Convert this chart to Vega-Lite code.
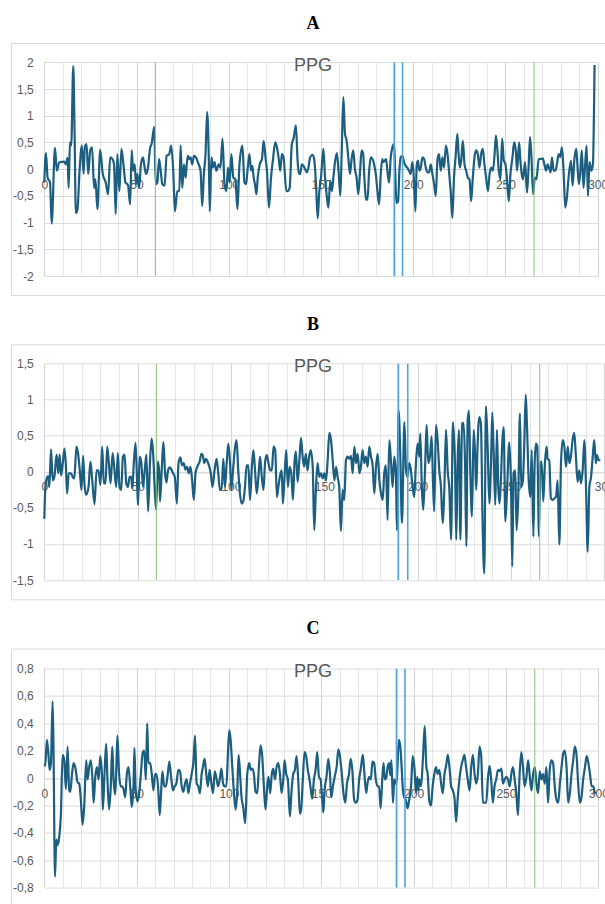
{
  "$schema": "https://vega.github.io/schema/vega-lite/v6.json",
  "background": "white",
  "padding": {"left": 10, "top": 14, "right": 0, "bottom": 0},
  "spacing": 19.3,
  "resolve": {"scale": {"x": "independent", "y": "independent"}},
  "datasets": {
    "a": [
      {"t":0,"v":-0.25},{"t":0.9,"v":0.30},{"t":1.8,"v":-0.16},{"t":3.1,"v":-0.25},{"t":4.0,"v":-1.02},{"t":5.8,"v":0.40},{"t":6.8,"v":-0.03},{"t":8.1,"v":0.13},{"t":10.8,"v":0.14},{"t":11.7,"v":0.09},{"t":12.6,"v":0.21},{"t":13.2,"v":-0.35},{"t":13.9,"v":0.50},{"t":14.6,"v":0.44},{"t":15.7,"v":1.93},{"t":16.4,"v":0.72},{"t":17.1,"v":-0.82},{"t":18.0,"v":-0.75},{"t":19.1,"v":-0.03},{"t":20.4,"v":0.44},{"t":21.3,"v":-0.09},{"t":22.0,"v":0.42},{"t":22.9,"v":0.47},{"t":23.8,"v":-0.09},{"t":24.9,"v":0.35},{"t":25.9,"v":0.41},{"t":27.0,"v":-0.35},{"t":27.7,"v":-0.19},{"t":28.8,"v":-0.75},{"t":30.3,"v":0.36},{"t":31.7,"v":-0.09},{"t":33.3,"v":-0.25},{"t":34.6,"v":-0.47},{"t":35.7,"v":0.22},{"t":36.9,"v":0.19},{"t":37.8,"v":0.09},{"t":38.7,"v":-0.84},{"t":39.6,"v":0.28},{"t":40.7,"v":-0.41},{"t":41.8,"v":0.38},{"t":42.9,"v":0.09},{"t":44.0,"v":-0.25},{"t":45.4,"v":-0.30},{"t":46.5,"v":-0.66},{"t":47.4,"v":0.35},{"t":48.1,"v":-0.03},{"t":49.0,"v":0.09},{"t":49.7,"v":-0.28},{"t":50.5,"v":-0.09},{"t":51.4,"v":-0.35},{"t":52.4,"v":0.09},{"t":53.5,"v":0.22},{"t":54.4,"v":0.03},{"t":55.1,"v":-0.09},{"t":56.2,"v":0.03},{"t":57.3,"v":0.38},{"t":58.2,"v":0.48},{"t":59.6,"v":0.79},{"t":60.4,"v":-0.28},{"t":61.3,"v":-0.25},{"t":62.2,"v":0.19},{"t":63.1,"v":-0.03},{"t":64.0,"v":-0.28},{"t":65.2,"v":-0.31},{"t":66.3,"v":0.25},{"t":67.7,"v":0.28},{"t":68.8,"v":0.44},{"t":69.9,"v":-0.03},{"t":70.8,"v":-0.79},{"t":72.1,"v":-0.41},{"t":73.2,"v":-0.41},{"t":73.9,"v":0.44},{"t":74.8,"v":-0.35},{"t":75.7,"v":0.09},{"t":76.6,"v":-0.16},{"t":77.1,"v":0.03},{"t":77.8,"v":0.25},{"t":78.6,"v":0.19},{"t":79.3,"v":0.22},{"t":80.2,"v":0.09},{"t":81.1,"v":0.25},{"t":82.2,"v":0.22},{"t":83.2,"v":0.13},{"t":84.7,"v":-0.03},{"t":85.6,"v":-0.69},{"t":86.5,"v":-0.09},{"t":87.4,"v":0.28},{"t":88.3,"v":1.07},{"t":89.2,"v":0.16},{"t":89.7,"v":-0.79},{"t":90.6,"v":0.22},{"t":91.4,"v":0.03},{"t":92.3,"v":0.13},{"t":93.3,"v":-0.03},{"t":94.6,"v":0.09},{"t":95.5,"v":0.03},{"t":96.6,"v":0.57},{"t":97.7,"v":-0.28},{"t":98.7,"v":-0.41},{"t":99.6,"v":0.03},{"t":100.5,"v":-0.25},{"t":101.4,"v":0.28},{"t":102.5,"v":-0.16},{"t":103.6,"v":-0.19},{"t":104.7,"v":-0.75},{"t":105.8,"v":0.09},{"t":107.4,"v":0.44},{"t":108.5,"v":-0.25},{"t":109.4,"v":-0.28},{"t":110.3,"v":0.03},{"t":111.2,"v":0.28},{"t":112.1,"v":-0.03},{"t":112.8,"v":0.06},{"t":113.5,"v":-0.16},{"t":114.2,"v":-0.28},{"t":115.0,"v":-0.47},{"t":115.7,"v":-0.16},{"t":116.8,"v":0.09},{"t":118.0,"v":0.19},{"t":118.9,"v":0.53},{"t":120.0,"v":0.19},{"t":120.7,"v":-0.03},{"t":121.8,"v":-0.72},{"t":122.9,"v":-0.16},{"t":124.0,"v":0.19},{"t":125.2,"v":0.50},{"t":126.1,"v":0.41},{"t":127.0,"v":0.22},{"t":127.9,"v":-0.03},{"t":128.8,"v":0.28},{"t":129.7,"v":0.22},{"t":131.2,"v":-0.41},{"t":131.9,"v":-0.41},{"t":133.0,"v":-0.35},{"t":134.2,"v":0.47},{"t":135.1,"v":0.57},{"t":136.4,"v":0.82},{"t":137.3,"v":0.16},{"t":138.0,"v":-0.09},{"t":138.7,"v":-0.09},{"t":139.6,"v":0.09},{"t":140.5,"v":0.06},{"t":141.4,"v":0.00},{"t":142.3,"v":-0.06},{"t":143.2,"v":0.03},{"t":144.1,"v":0.22},{"t":145.5,"v":0.27},{"t":146.4,"v":0.16},{"t":147.3,"v":-0.28},{"t":148.2,"v":-0.92},{"t":149.1,"v":-0.41},{"t":150.0,"v":-0.16},{"t":151.3,"v":0.38},{"t":152.2,"v":-0.16},{"t":153.2,"v":-0.53},{"t":154.0,"v":-0.72},{"t":155.0,"v":-0.22},{"t":155.9,"v":-0.41},{"t":156.7,"v":-0.16},{"t":157.7,"v":0.16},{"t":158.6,"v":0.30},{"t":159.5,"v":-0.03},{"t":160.5,"v":-0.50},{"t":161.2,"v":0.28},{"t":162.1,"v":1.35},{"t":163.0,"v":0.66},{"t":163.9,"v":0.53},{"t":164.8,"v":0.22},{"t":165.7,"v":-0.09},{"t":166.6,"v":0.19},{"t":167.5,"v":0.35},{"t":168.4,"v":0.00},{"t":169.3,"v":-0.16},{"t":170.2,"v":-0.47},{"t":171.1,"v":-0.09},{"t":172.0,"v":0.35},{"t":172.9,"v":0.28},{"t":173.4,"v":-0.09},{"t":174.5,"v":-0.57},{"t":175.2,"v":-0.57},{"t":176.1,"v":-0.03},{"t":177.0,"v":0.22},{"t":177.9,"v":0.19},{"t":178.8,"v":0.09},{"t":179.7,"v":-0.09},{"t":180.6,"v":-0.41},{"t":181.5,"v":-0.66},{"t":182.4,"v":-0.09},{"t":183.2,"v":0.19},{"t":183.9,"v":0.13},{"t":184.6,"v":0.16},{"t":185.3,"v":0.19},{"t":186.0,"v":-0.03},{"t":186.9,"v":-0.25},{"t":187.8,"v":0.22},{"t":188.7,"v":0.41},{"t":189.6,"v":0.47},{"t":190.2,"v":-0.03},{"t":190.9,"v":-0.63},{"t":191.8,"v":-0.60},{"t":192.5,"v":-0.03},{"t":193.2,"v":0.22},{"t":194.1,"v":0.25},{"t":195.0,"v":0.13},{"t":195.9,"v":0.06},{"t":196.8,"v":0.03},{"t":197.7,"v":-0.03},{"t":198.6,"v":-0.09},{"t":199.5,"v":0.13},{"t":200.1,"v":-0.03},{"t":201.2,"v":-0.79},{"t":201.9,"v":0.09},{"t":202.6,"v":0.16},{"t":203.3,"v":-0.03},{"t":204.1,"v":0.03},{"t":205.0,"v":0.22},{"t":205.9,"v":0.19},{"t":206.8,"v":0.03},{"t":207.7,"v":-0.06},{"t":208.6,"v":-0.06},{"t":209.5,"v":0.09},{"t":210.4,"v":-0.09},{"t":211.3,"v":-0.28},{"t":212.2,"v":-0.50},{"t":213.1,"v":0.16},{"t":214.0,"v":0.28},{"t":214.9,"v":-0.03},{"t":215.8,"v":0.22},{"t":216.7,"v":0.03},{"t":217.7,"v":0.44},{"t":218.6,"v":0.28},{"t":219.5,"v":-0.09},{"t":220.3,"v":-0.41},{"t":221.2,"v":-0.91},{"t":222.1,"v":-0.16},{"t":223.0,"v":0.25},{"t":223.9,"v":0.66},{"t":224.6,"v":0.28},{"t":225.3,"v":0.03},{"t":226.0,"v":0.16},{"t":226.9,"v":0.53},{"t":227.8,"v":0.09},{"t":228.7,"v":-0.03},{"t":229.6,"v":-0.16},{"t":230.5,"v":-0.19},{"t":231.4,"v":-0.60},{"t":232.3,"v":-0.16},{"t":233.2,"v":0.22},{"t":234.1,"v":0.35},{"t":235.0,"v":0.28},{"t":235.9,"v":0.03},{"t":236.8,"v":0.28},{"t":237.7,"v":0.38},{"t":238.6,"v":0.09},{"t":239.5,"v":-0.16},{"t":240.5,"v":-0.41},{"t":241.4,"v":-0.09},{"t":242.3,"v":0.03},{"t":243.2,"v":-0.03},{"t":244.1,"v":0.28},{"t":244.8,"v":0.63},{"t":245.5,"v":0.41},{"t":246.4,"v":-0.03},{"t":247.3,"v":-0.19},{"t":248.2,"v":0.57},{"t":249.1,"v":0.16},{"t":250.0,"v":0.09},{"t":250.9,"v":-0.22},{"t":251.8,"v":-0.60},{"t":252.7,"v":-0.09},{"t":253.8,"v":0.22},{"t":254.7,"v":0.50},{"t":255.6,"v":0.35},{"t":256.3,"v":-0.03},{"t":257.4,"v":0.50},{"t":258.1,"v":0.16},{"t":258.8,"v":-0.09},{"t":259.5,"v":-0.19},{"t":260.6,"v":0.13},{"t":261.7,"v":-0.44},{"t":262.6,"v":0.09},{"t":263.3,"v":0.60},{"t":264.1,"v":0.22},{"t":265.0,"v":-0.47},{"t":265.9,"v":-0.16},{"t":266.8,"v":-0.19},{"t":268.0,"v":0.19},{"t":268.9,"v":0.19},{"t":270.2,"v":0.20},{"t":271.1,"v":0.09},{"t":272.0,"v":-0.03},{"t":272.9,"v":0.09},{"t":273.6,"v":0.03},{"t":274.5,"v":-0.06},{"t":275.2,"v":0.22},{"t":276.1,"v":-0.03},{"t":277.0,"v":-0.03},{"t":277.9,"v":0.09},{"t":278.8,"v":0.28},{"t":279.7,"v":0.23},{"t":280.6,"v":0.41},{"t":281.5,"v":-0.03},{"t":282.4,"v":-0.72},{"t":283.3,"v":-0.53},{"t":284.2,"v":-0.16},{"t":285.5,"v":0.16},{"t":286.4,"v":-0.31},{"t":287.3,"v":0.16},{"t":288.4,"v":0.38},{"t":289.1,"v":0.03},{"t":289.8,"v":-0.28},{"t":290.5,"v":-0.09},{"t":291.4,"v":0.35},{"t":292.3,"v":-0.35},{"t":293.2,"v":0.09},{"t":294.0,"v":0.44},{"t":294.7,"v":-0.50},{"t":295.6,"v":0.13},{"t":296.5,"v":-0.03},{"t":297.4,"v":0.09},{"t":298.3,"v":1.95}
    ],
    "b": [
      {"t":0,"v":-0.65},{"t":0.5,"v":-0.25},{"t":1.3,"v":-0.09},{"t":2.0,"v":-0.06},{"t":2.7,"v":-0.21},{"t":3.6,"v":0.31},{"t":4.5,"v":-0.12},{"t":5.4,"v":-0.07},{"t":6.6,"v":0.24},{"t":7.5,"v":-0.02},{"t":8.2,"v":0.24},{"t":9.0,"v":-0.05},{"t":9.9,"v":0.12},{"t":10.8,"v":0.32},{"t":11.6,"v":0.07},{"t":12.2,"v":-0.30},{"t":13.1,"v":-0.02},{"t":14.3,"v":-0.02},{"t":15.2,"v":-0.07},{"t":16.1,"v":-0.09},{"t":17.2,"v":0.35},{"t":18.1,"v":0.25},{"t":19.0,"v":0.02},{"t":19.9,"v":-0.25},{"t":20.8,"v":0.22},{"t":21.5,"v":-0.16},{"t":22.4,"v":-0.32},{"t":23.7,"v":-0.21},{"t":24.7,"v":0.14},{"t":25.6,"v":-0.09},{"t":26.9,"v":-0.45},{"t":28.0,"v":0.02},{"t":29.0,"v":0.02},{"t":30.1,"v":-0.18},{"t":31.0,"v":0.35},{"t":31.9,"v":-0.16},{"t":32.8,"v":-0.16},{"t":33.7,"v":0.35},{"t":34.6,"v":0.12},{"t":35.5,"v":-0.16},{"t":36.6,"v":0.26},{"t":37.6,"v":0.02},{"t":38.5,"v":-0.21},{"t":39.4,"v":0.26},{"t":40.3,"v":-0.21},{"t":41.2,"v":-0.25},{"t":42.1,"v":0.21},{"t":43.0,"v":0.24},{"t":43.9,"v":-0.16},{"t":44.8,"v":-0.21},{"t":45.7,"v":-0.07},{"t":46.6,"v":-0.07},{"t":47.1,"v":-0.23},{"t":48.0,"v":0.14},{"t":48.9,"v":0.40},{"t":49.8,"v":-0.21},{"t":50.2,"v":-0.46},{"t":51.1,"v":0.21},{"t":52.0,"v":0.12},{"t":52.9,"v":-0.21},{"t":53.8,"v":0.02},{"t":54.7,"v":0.24},{"t":55.6,"v":-0.55},{"t":56.6,"v":0.12},{"t":57.5,"v":0.46},{"t":58.4,"v":0.21},{"t":59.1,"v":-0.21},{"t":59.9,"v":-0.53},{"t":60.8,"v":0.14},{"t":61.5,"v":0.02},{"t":62.0,"v":-0.41},{"t":62.9,"v":0.02},{"t":63.8,"v":0.41},{"t":64.7,"v":-0.02},{"t":65.4,"v":-0.15},{"t":66.3,"v":0.02},{"t":67.2,"v":0.06},{"t":68.1,"v":0.03},{"t":69.0,"v":-0.02},{"t":69.9,"v":-0.07},{"t":71.0,"v":-0.44},{"t":71.9,"v":0.12},{"t":72.9,"v":0.20},{"t":73.8,"v":0.09},{"t":74.7,"v":0.12},{"t":75.6,"v":0.03},{"t":76.5,"v":0.07},{"t":77.4,"v":-0.02},{"t":78.3,"v":0.07},{"t":79.2,"v":-0.12},{"t":80.1,"v":-0.39},{"t":81.0,"v":-0.02},{"t":82.1,"v":0.08},{"t":83.2,"v":0.14},{"t":84.2,"v":0.25},{"t":84.9,"v":0.23},{"t":85.7,"v":0.12},{"t":86.6,"v":0.18},{"t":87.5,"v":0.14},{"t":88.4,"v":0.07},{"t":89.2,"v":-0.02},{"t":90.1,"v":-0.21},{"t":91.2,"v":0.02},{"t":92.3,"v":0.18},{"t":93.2,"v":-0.02},{"t":94.1,"v":-0.25},{"t":95.0,"v":-0.25},{"t":95.9,"v":0.18},{"t":96.8,"v":-0.21},{"t":97.7,"v":0.12},{"t":98.6,"v":0.39},{"t":99.5,"v":0.12},{"t":100.2,"v":-0.25},{"t":101.1,"v":0.02},{"t":102.0,"v":0.30},{"t":103.0,"v":0.44},{"t":103.9,"v":0.02},{"t":104.8,"v":-0.30},{"t":105.7,"v":-0.44},{"t":106.6,"v":-0.41},{"t":107.5,"v":-0.21},{"t":108.4,"v":0.09},{"t":109.3,"v":0.09},{"t":110.2,"v":-0.39},{"t":111.1,"v":0.02},{"t":112.0,"v":0.30},{"t":112.9,"v":0.02},{"t":113.8,"v":-0.30},{"t":114.7,"v":-0.07},{"t":115.6,"v":0.21},{"t":116.5,"v":-0.07},{"t":117.4,"v":-0.25},{"t":118.3,"v":0.14},{"t":119.2,"v":0.23},{"t":120.1,"v":0.12},{"t":121.0,"v":0.02},{"t":121.9,"v":0.02},{"t":122.8,"v":0.35},{"t":123.7,"v":0.30},{"t":124.6,"v":-0.35},{"t":125.4,"v":-0.21},{"t":126.3,"v":-0.05},{"t":127.2,"v":0.02},{"t":127.8,"v":-0.44},{"t":128.7,"v":-0.07},{"t":129.6,"v":0.30},{"t":130.5,"v":-0.21},{"t":131.4,"v":0.07},{"t":132.3,"v":-0.02},{"t":133.2,"v":-0.39},{"t":134.1,"v":0.16},{"t":134.8,"v":0.28},{"t":135.7,"v":-0.14},{"t":136.6,"v":0.14},{"t":137.5,"v":0.47},{"t":138.4,"v":0.21},{"t":139.2,"v":0.07},{"t":140.1,"v":0.25},{"t":141.0,"v":0.02},{"t":141.9,"v":0.21},{"t":142.7,"v":0.30},{"t":143.8,"v":0.07},{"t":144.6,"v":-0.81},{"t":145.5,"v":-0.25},{"t":146.4,"v":0.12},{"t":147.3,"v":-0.07},{"t":148.2,"v":-0.02},{"t":149.1,"v":-0.09},{"t":150.0,"v":-0.02},{"t":150.9,"v":-0.12},{"t":151.8,"v":0.16},{"t":152.7,"v":0.54},{"t":153.6,"v":0.44},{"t":154.5,"v":0.16},{"t":155.4,"v":-0.12},{"t":156.3,"v":0.07},{"t":157.1,"v":-0.07},{"t":158.0,"v":-0.21},{"t":158.9,"v":-0.82},{"t":159.8,"v":-0.25},{"t":160.7,"v":-0.39},{"t":161.6,"v":0.16},{"t":162.5,"v":0.21},{"t":163.4,"v":0.18},{"t":164.3,"v":0.22},{"t":165.2,"v":-0.02},{"t":166.1,"v":0.35},{"t":167.0,"v":0.12},{"t":167.9,"v":0.25},{"t":168.8,"v":-0.02},{"t":169.6,"v":0.07},{"t":170.5,"v":0.30},{"t":171.4,"v":0.12},{"t":172.3,"v":0.21},{"t":173.2,"v":0.07},{"t":174.1,"v":0.35},{"t":175.0,"v":0.21},{"t":175.9,"v":0.09},{"t":176.8,"v":-0.30},{"t":177.7,"v":0.07},{"t":178.6,"v":0.25},{"t":179.5,"v":-0.12},{"t":180.4,"v":-0.30},{"t":181.3,"v":-0.39},{"t":182.1,"v":-0.02},{"t":183.0,"v":0.09},{"t":183.9,"v":-0.67},{"t":184.8,"v":0.44},{"t":185.7,"v":0.16},{"t":186.6,"v":-0.21},{"t":187.5,"v":0.21},{"t":188.4,"v":-0.07},{"t":188.9,"v":-0.81},{"t":189.8,"v":0.85},{"t":190.7,"v":0.25},{"t":191.6,"v":-0.71},{"t":192.9,"v":0.69},{"t":193.8,"v":0.02},{"t":194.6,"v":-0.07},{"t":195.5,"v":0.12},{"t":196.4,"v":0.02},{"t":197.3,"v":-0.21},{"t":198.2,"v":-0.35},{"t":199.1,"v":0.12},{"t":200.0,"v":0.39},{"t":200.9,"v":0.21},{"t":201.4,"v":0.53},{"t":202.3,"v":-0.25},{"t":203.0,"v":-0.53},{"t":203.9,"v":-0.02},{"t":204.8,"v":0.65},{"t":205.7,"v":0.12},{"t":206.6,"v":0.21},{"t":207.5,"v":0.49},{"t":208.2,"v":-0.12},{"t":208.9,"v":-0.55},{"t":209.8,"v":0.65},{"t":210.7,"v":0.44},{"t":211.6,"v":0.02},{"t":212.5,"v":-0.21},{"t":213.4,"v":-0.71},{"t":214.3,"v":-0.25},{"t":215.2,"v":0.58},{"t":216.1,"v":0.02},{"t":217.0,"v":-0.25},{"t":217.9,"v":-0.94},{"t":218.9,"v":0.69},{"t":220.0,"v":0.12},{"t":220.7,"v":-0.94},{"t":221.4,"v":0.12},{"t":222.1,"v":0.58},{"t":222.9,"v":-0.94},{"t":223.8,"v":0.67},{"t":224.6,"v":0.68},{"t":225.4,"v":0.12},{"t":226.1,"v":-1.03},{"t":226.8,"v":0.71},{"t":227.5,"v":0.85},{"t":228.2,"v":0.02},{"t":229.1,"v":-0.62},{"t":230.0,"v":0.58},{"t":230.7,"v":0.30},{"t":231.4,"v":-0.25},{"t":232.1,"v":0.35},{"t":233.0,"v":0.76},{"t":233.9,"v":0.67},{"t":234.8,"v":-0.71},{"t":235.7,"v":-1.41},{"t":236.6,"v":0.91},{"t":237.5,"v":0.35},{"t":238.4,"v":-0.44},{"t":239.3,"v":0.12},{"t":240.0,"v":0.82},{"t":240.7,"v":0.30},{"t":241.6,"v":-0.46},{"t":242.5,"v":0.58},{"t":243.2,"v":-0.21},{"t":243.9,"v":-0.44},{"t":244.6,"v":-0.12},{"t":245.4,"v":0.44},{"t":246.1,"v":0.62},{"t":247.0,"v":-0.69},{"t":247.9,"v":-0.25},{"t":249.1,"v":0.41},{"t":250.0,"v":-0.16},{"t":250.7,"v":-1.31},{"t":251.4,"v":-0.02},{"t":252.3,"v":0.02},{"t":253.0,"v":-0.81},{"t":253.9,"v":-0.35},{"t":254.8,"v":0.81},{"t":255.5,"v":-0.21},{"t":256.4,"v":-0.12},{"t":257.1,"v":0.35},{"t":257.9,"v":1.07},{"t":258.6,"v":0.62},{"t":259.5,"v":-0.12},{"t":260.4,"v":-0.35},{"t":261.1,"v":0.30},{"t":262.0,"v":-0.90},{"t":262.7,"v":0.12},{"t":263.4,"v":0.39},{"t":264.1,"v":0.35},{"t":265.0,"v":-0.90},{"t":265.7,"v":0.12},{"t":266.4,"v":0.14},{"t":267.3,"v":-0.41},{"t":268.2,"v":0.12},{"t":269.1,"v":0.35},{"t":269.6,"v":0.18},{"t":270.5,"v":0.16},{"t":271.4,"v":-0.37},{"t":272.3,"v":-0.39},{"t":273.2,"v":-0.37},{"t":274.1,"v":-0.35},{"t":275.0,"v":-0.12},{"t":275.9,"v":-1.01},{"t":276.8,"v":0.12},{"t":277.7,"v":0.44},{"t":278.6,"v":0.35},{"t":279.5,"v":0.07},{"t":280.4,"v":0.35},{"t":281.3,"v":0.12},{"t":282.1,"v":0.21},{"t":283.0,"v":0.44},{"t":283.9,"v":0.54},{"t":284.8,"v":0.21},{"t":285.7,"v":-0.14},{"t":286.6,"v":0.02},{"t":287.5,"v":-0.16},{"t":288.4,"v":0.02},{"t":289.3,"v":0.44},{"t":290.2,"v":-0.21},{"t":291.1,"v":-1.11},{"t":292.0,"v":-0.21},{"t":292.9,"v":-0.07},{"t":293.8,"v":0.21},{"t":294.6,"v":0.44},{"t":295.5,"v":0.12},{"t":296.1,"v":0.23},{"t":297.0,"v":0.16},{"t":297.9,"v":0.16}
    ],
    "c": [
      {"t":0,"v":0.10},{"t":0.5,"v":0.09},{"t":1.4,"v":0.28},{"t":2.2,"v":0.18},{"t":2.9,"v":0.06},{"t":3.6,"v":0.11},{"t":4.5,"v":0.56},{"t":5.0,"v":0.20},{"t":5.8,"v":-0.72},{"t":6.5,"v":-0.45},{"t":7.2,"v":-0.49},{"t":8.1,"v":-0.43},{"t":9.0,"v":-0.26},{"t":9.9,"v":0.17},{"t":10.8,"v":0.13},{"t":11.7,"v":-0.08},{"t":12.6,"v":0.23},{"t":13.5,"v":-0.09},{"t":14.1,"v":-0.10},{"t":15.0,"v":0.03},{"t":15.9,"v":0.11},{"t":16.9,"v":0.07},{"t":18.0,"v":-0.03},{"t":18.9,"v":-0.04},{"t":19.8,"v":-0.16},{"t":20.7,"v":-0.34},{"t":21.6,"v":-0.21},{"t":22.7,"v":0.13},{"t":23.4,"v":-0.01},{"t":24.3,"v":0.08},{"t":25.2,"v":0.13},{"t":26.1,"v":-0.01},{"t":26.7,"v":-0.18},{"t":27.6,"v":0.01},{"t":28.5,"v":0.08},{"t":29.4,"v":-0.01},{"t":30.3,"v":0.16},{"t":31.2,"v":0.03},{"t":31.7,"v":-0.23},{"t":32.6,"v":0.03},{"t":33.5,"v":0.25},{"t":34.2,"v":-0.01},{"t":35.1,"v":-0.23},{"t":36.0,"v":-0.06},{"t":36.8,"v":0.23},{"t":37.5,"v":-0.01},{"t":38.4,"v":-0.12},{"t":38.9,"v":0.03},{"t":39.6,"v":0.31},{"t":40.5,"v":0.03},{"t":41.4,"v":-0.06},{"t":42.2,"v":-0.06},{"t":42.9,"v":-0.08},{"t":43.8,"v":-0.14},{"t":44.7,"v":0.03},{"t":45.6,"v":0.08},{"t":46.5,"v":-0.06},{"t":47.4,"v":-0.21},{"t":48.3,"v":-0.06},{"t":48.8,"v":0.22},{"t":49.5,"v":-0.09},{"t":50.5,"v":-0.17},{"t":51.4,"v":-0.11},{"t":52.3,"v":0.03},{"t":53.2,"v":0.18},{"t":54.1,"v":0.20},{"t":55.0,"v":-0.01},{"t":55.7,"v":0.40},{"t":56.4,"v":0.11},{"t":57.3,"v":0.11},{"t":58.2,"v":0.03},{"t":59.1,"v":-0.09},{"t":60.0,"v":0.03},{"t":60.7,"v":0.03},{"t":61.6,"v":-0.06},{"t":62.5,"v":-0.27},{"t":63.4,"v":-0.06},{"t":64.0,"v":0.05},{"t":64.9,"v":-0.06},{"t":65.8,"v":-0.06},{"t":66.7,"v":0.01},{"t":67.7,"v":0.12},{"t":68.8,"v":-0.01},{"t":69.7,"v":-0.09},{"t":70.6,"v":-0.06},{"t":71.5,"v":-0.04},{"t":72.6,"v":0.06},{"t":73.5,"v":0.05},{"t":74.4,"v":-0.06},{"t":75.3,"v":-0.10},{"t":76.2,"v":-0.04},{"t":77.1,"v":-0.01},{"t":78.0,"v":-0.11},{"t":78.9,"v":-0.04},{"t":79.8,"v":0.03},{"t":80.7,"v":0.11},{"t":81.6,"v":0.31},{"t":82.5,"v":-0.04},{"t":83.4,"v":-0.06},{"t":84.3,"v":-0.11},{"t":85.2,"v":0.03},{"t":85.9,"v":0.08},{"t":86.8,"v":0.14},{"t":87.7,"v":0.03},{"t":88.6,"v":-0.06},{"t":89.5,"v":0.06},{"t":90.5,"v":-0.04},{"t":91.4,"v":-0.11},{"t":92.3,"v":0.05},{"t":93.2,"v":0.00},{"t":94.1,"v":-0.06},{"t":95.0,"v":-0.01},{"t":95.9,"v":0.07},{"t":96.8,"v":-0.04},{"t":97.7,"v":-0.06},{"t":98.6,"v":-0.06},{"t":99.5,"v":0.20},{"t":100.2,"v":0.35},{"t":100.9,"v":0.28},{"t":101.8,"v":0.08},{"t":102.7,"v":-0.11},{"t":103.6,"v":-0.23},{"t":104.5,"v":-0.09},{"t":105.2,"v":0.17},{"t":106.1,"v":0.01},{"t":106.8,"v":-0.14},{"t":107.7,"v":-0.21},{"t":108.8,"v":-0.33},{"t":109.9,"v":0.03},{"t":111.0,"v":0.11},{"t":111.7,"v":0.06},{"t":112.6,"v":0.07},{"t":113.5,"v":0.03},{"t":114.4,"v":-0.10},{"t":115.3,"v":-0.11},{"t":116.2,"v":0.08},{"t":117.1,"v":0.24},{"t":118.0,"v":0.16},{"t":118.9,"v":-0.06},{"t":119.8,"v":-0.23},{"t":120.7,"v":-0.06},{"t":121.4,"v":0.01},{"t":122.3,"v":-0.11},{"t":123.2,"v":0.03},{"t":124.0,"v":0.07},{"t":124.9,"v":-0.01},{"t":125.8,"v":0.08},{"t":126.7,"v":0.11},{"t":127.6,"v":0.03},{"t":128.5,"v":-0.11},{"t":129.4,"v":-0.01},{"t":130.1,"v":0.13},{"t":131.0,"v":0.03},{"t":131.9,"v":-0.01},{"t":133.0,"v":-0.28},{"t":133.9,"v":-0.09},{"t":134.8,"v":0.03},{"t":135.7,"v":0.06},{"t":136.6,"v":0.16},{"t":137.5,"v":-0.01},{"t":138.4,"v":-0.26},{"t":139.1,"v":-0.23},{"t":140.0,"v":-0.01},{"t":140.9,"v":0.19},{"t":141.8,"v":0.16},{"t":142.7,"v":0.06},{"t":143.6,"v":-0.01},{"t":144.1,"v":-0.06},{"t":145.1,"v":-0.15},{"t":146.0,"v":-0.01},{"t":146.9,"v":0.06},{"t":147.8,"v":0.19},{"t":148.7,"v":0.01},{"t":149.6,"v":-0.01},{"t":150.4,"v":-0.14},{"t":151.1,"v":-0.25},{"t":151.8,"v":-0.09},{"t":152.9,"v":0.02},{"t":153.8,"v":0.14},{"t":154.7,"v":0.03},{"t":155.4,"v":-0.14},{"t":156.3,"v":-0.06},{"t":157.4,"v":0.02},{"t":158.3,"v":0.08},{"t":159.2,"v":0.21},{"t":160.1,"v":0.16},{"t":161.1,"v":0.03},{"t":162.0,"v":-0.11},{"t":163.0,"v":-0.18},{"t":163.9,"v":-0.04},{"t":165.0,"v":0.03},{"t":165.9,"v":0.14},{"t":166.8,"v":0.06},{"t":167.8,"v":-0.16},{"t":168.7,"v":-0.18},{"t":169.6,"v":-0.16},{"t":170.5,"v":-0.01},{"t":171.4,"v":0.07},{"t":172.5,"v":0.17},{"t":173.2,"v":0.06},{"t":174.3,"v":-0.11},{"t":175.0,"v":-0.04},{"t":175.9,"v":0.01},{"t":176.8,"v":-0.01},{"t":177.7,"v":0.12},{"t":178.6,"v":0.11},{"t":179.5,"v":-0.01},{"t":180.4,"v":-0.06},{"t":181.3,"v":-0.06},{"t":182.1,"v":-0.22},{"t":183.0,"v":-0.01},{"t":183.7,"v":0.11},{"t":184.4,"v":-0.01},{"t":185.1,"v":0.00},{"t":185.9,"v":0.08},{"t":186.8,"v":0.11},{"t":187.3,"v":0.02},{"t":188.0,"v":0.13},{"t":188.8,"v":-0.18},{"t":189.5,"v":-0.01},{"t":190.2,"v":-0.04},{"t":190.9,"v":-0.01},{"t":192.0,"v":0.28},{"t":192.8,"v":0.23},{"t":193.5,"v":0.08},{"t":194.2,"v":-0.09},{"t":194.9,"v":-0.14},{"t":195.8,"v":-0.16},{"t":196.7,"v":-0.22},{"t":197.6,"v":-0.16},{"t":198.6,"v":-0.06},{"t":199.5,"v":0.16},{"t":200.4,"v":0.08},{"t":201.3,"v":-0.11},{"t":202.0,"v":0.01},{"t":202.5,"v":-0.09},{"t":203.1,"v":-0.01},{"t":204.0,"v":-0.06},{"t":205.1,"v":0.16},{"t":206.0,"v":0.38},{"t":206.9,"v":0.08},{"t":207.6,"v":0.03},{"t":208.5,"v":-0.17},{"t":209.4,"v":-0.20},{"t":210.3,"v":-0.06},{"t":211.2,"v":0.03},{"t":212.1,"v":0.08},{"t":213.0,"v":0.03},{"t":213.9,"v":0.06},{"t":214.9,"v":-0.04},{"t":215.8,"v":-0.11},{"t":216.7,"v":0.03},{"t":217.6,"v":0.09},{"t":218.5,"v":0.17},{"t":219.4,"v":0.08},{"t":220.3,"v":-0.06},{"t":221.2,"v":-0.09},{"t":222.1,"v":-0.14},{"t":223.0,"v":-0.32},{"t":223.9,"v":-0.14},{"t":224.8,"v":-0.01},{"t":225.7,"v":0.08},{"t":226.6,"v":0.13},{"t":227.5,"v":0.17},{"t":228.4,"v":0.08},{"t":229.3,"v":-0.01},{"t":230.3,"v":-0.09},{"t":231.2,"v":0.08},{"t":232.1,"v":0.17},{"t":233.0,"v":0.03},{"t":233.9,"v":-0.04},{"t":234.8,"v":0.03},{"t":235.7,"v":0.23},{"t":236.6,"v":0.16},{"t":237.5,"v":-0.18},{"t":238.4,"v":-0.18},{"t":239.3,"v":-0.18},{"t":240.2,"v":-0.01},{"t":241.1,"v":0.09},{"t":242.0,"v":-0.01},{"t":242.9,"v":-0.18},{"t":243.8,"v":-0.06},{"t":244.7,"v":-0.01},{"t":245.7,"v":0.06},{"t":246.6,"v":0.05},{"t":247.5,"v":0.07},{"t":248.4,"v":-0.04},{"t":249.3,"v":-0.01},{"t":250.2,"v":0.01},{"t":251.1,"v":-0.01},{"t":252.0,"v":-0.06},{"t":252.9,"v":0.03},{"t":253.8,"v":0.08},{"t":254.7,"v":-0.01},{"t":255.6,"v":-0.11},{"t":256.5,"v":-0.27},{"t":257.4,"v":0.03},{"t":258.3,"v":0.19},{"t":259.2,"v":0.08},{"t":260.1,"v":-0.06},{"t":261.1,"v":0.01},{"t":262.0,"v":0.13},{"t":262.9,"v":0.01},{"t":263.8,"v":-0.09},{"t":264.7,"v":0.03},{"t":265.6,"v":0.08},{"t":266.5,"v":-0.04},{"t":267.4,"v":-0.11},{"t":268.3,"v":0.05},{"t":269.2,"v":-0.01},{"t":270.1,"v":0.03},{"t":271.0,"v":-0.04},{"t":271.9,"v":0.08},{"t":272.8,"v":-0.18},{"t":273.7,"v":0.06},{"t":274.6,"v":0.13},{"t":275.5,"v":0.11},{"t":276.4,"v":-0.06},{"t":277.4,"v":-0.16},{"t":278.3,"v":-0.18},{"t":279.2,"v":-0.04},{"t":280.1,"v":0.08},{"t":281.0,"v":0.18},{"t":281.9,"v":0.20},{"t":282.8,"v":0.08},{"t":283.7,"v":-0.18},{"t":284.6,"v":-0.11},{"t":285.5,"v":0.03},{"t":286.4,"v":0.13},{"t":287.3,"v":0.23},{"t":288.2,"v":0.17},{"t":289.1,"v":-0.04},{"t":290.0,"v":-0.18},{"t":290.9,"v":-0.14},{"t":291.8,"v":-0.01},{"t":292.8,"v":0.08},{"t":293.7,"v":0.16},{"t":294.6,"v":0.11},{"t":295.5,"v":0.03},{"t":296.4,"v":-0.06},{"t":297.3,"v":-0.06},{"t":298.2,"v":-0.11},{"t":298.7,"v":-0.10}
    ],
    "ma": [{"t":60.2,"k":"g"},{"t":189.7,"k":"b"},{"t":194.2,"k":"b"},{"t":265.5,"k":"g"}],
    "mb": [{"t":60.0,"k":"g"},{"t":189.6,"k":"b"},{"t":194.7,"k":"b"},{"t":265.4,"k":"g"}],
    "mc": [{"t":190.8,"k":"b"},{"t":195.3,"k":"b"},{"t":265.6,"k":"g"}]
  },
  "vconcat": [
    {
      "width": 596, "height": 252,
      "title": {"text": "A", "subtitle": "PPG"},
      "layer": [
        {
          "data": {"name": "a"},
          "mark": {"type": "line", "interpolate": "monotone", "color": "#1b5e80", "strokeWidth": 2.2},
          "encoding": {
            "x": {"field": "t", "type": "quantitative",
                  "scale": {"domain": [0, 300], "range": [33.3, 586.7], "nice": false, "zero": false},
                  "axis": {"values": [0,10,20,30,40,50,60,70,80,90,100,110,120,130,140,150,160,170,180,190,200,210,220,230,240,250,260,270,280,290,300], "tickCount": 100,
                           "grid": true, "gridColor": {"condition": {"test": "datum.value % 50 === 0", "value": "#d2d2d2"}, "value": "#e6e6e6"},
                           "labelExpr": "datum.value % 50 === 0 ? datum.label : ''", "offset": -125.85, "labelPadding": 10,
                           "labelOverlap": false, "labelFlush": false, "labelBound": false}},
            "y": {"field": "v", "type": "quantitative",
                  "scale": {"domain": [-2, 2], "range": [233, 19.3], "nice": false, "zero": false},
                  "axis": {"values": [-2,-1.5,-1,-0.5,0,0.5,1,1.5,2], "tickCount": 100, "grid": true,
                           "gridColor": {"condition": {"test": "datum.value === 0", "value": "#cccccc"}, "value": "#dcdcdc"},
                           "labelExpr": "(datum.value < 0 ? '-' : '') + replace(format(abs(datum.value), '~g'), '.', ',')",
                           "offset": -22.3, "labelPadding": 0, "labelOverlap": false, "labelBound": false, "labelFlush": false}}
          }
        },
        {
          "data": {"name": "ma"},
          "mark": {"type": "rule"},
          "encoding": {
            "x": {"field": "t", "type": "quantitative"},
            "y": {"datum": 2}, "y2": {"datum": -2},
            "color": {"field": "k", "type": "nominal", "scale": {"domain": ["g","b"], "range": ["#85c672","#4ea6dd"]}, "legend": null},
            "strokeWidth": {"field": "k", "type": "nominal", "scale": {"domain": ["g","b"], "range": [1, 1.6]}, "legend": null}
          }
        }
      ]
    },
    {
      "width": 596, "height": 255,
      "title": {"text": "B", "subtitle": "PPG"},
      "layer": [
        {
          "data": {"name": "b"},
          "mark": {"type": "line", "interpolate": "monotone", "color": "#1b5e80", "strokeWidth": 2.2},
          "encoding": {
            "x": {"field": "t", "type": "quantitative",
                  "scale": {"domain": [0, 300], "range": [33.3, 593.3], "nice": false, "zero": false},
                  "axis": {"values": [0,10,20,30,40,50,60,70,80,90,100,110,120,130,140,150,160,170,180,190,200,210,220,230,240,250,260,270,280,290,300], "tickCount": 100,
                           "grid": true, "gridColor": {"condition": {"test": "datum.value % 50 === 0", "value": "#d2d2d2"}, "value": "#e6e6e6"},
                           "labelExpr": "datum.value % 50 === 0 ? datum.label : ''", "offset": -127.5, "labelPadding": 10,
                           "labelOverlap": false, "labelFlush": false, "labelBound": false}},
            "y": {"field": "v", "type": "quantitative",
                  "scale": {"domain": [-1.5, 1.5], "range": [235.7, 19.3], "nice": false, "zero": false},
                  "axis": {"values": [-1.5,-1,-0.5,0,0.5,1,1.5], "tickCount": 100, "grid": true,
                           "gridColor": {"condition": {"test": "datum.value === 0", "value": "#cccccc"}, "value": "#dcdcdc"},
                           "labelExpr": "(datum.value < 0 ? '-' : '') + replace(format(abs(datum.value), '~g'), '.', ',')",
                           "offset": -22.3, "labelPadding": 0, "labelOverlap": false, "labelBound": false, "labelFlush": false}}
          }
        },
        {
          "data": {"name": "mb"},
          "mark": {"type": "rule"},
          "encoding": {
            "x": {"field": "t", "type": "quantitative"},
            "y": {"datum": 1.5}, "y2": {"datum": -1.5},
            "color": {"field": "k", "type": "nominal", "scale": {"domain": ["g","b"], "range": ["#85c672","#4ea6dd"]}, "legend": null},
            "strokeWidth": {"field": "k", "type": "nominal", "scale": {"domain": ["g","b"], "range": [1, 1.6]}, "legend": null}
          }
        }
      ]
    },
    {
      "width": 596, "height": 258,
      "title": {"text": "C", "subtitle": "PPG"},
      "layer": [
        {
          "data": {"name": "c"},
          "mark": {"type": "line", "interpolate": "monotone", "color": "#1b5e80", "strokeWidth": 2.2},
          "encoding": {
            "x": {"field": "t", "type": "quantitative",
                  "scale": {"domain": [0, 300], "range": [33.3, 587.3], "nice": false, "zero": false},
                  "axis": {"values": [0,10,20,30,40,50,60,70,80,90,100,110,120,130,140,150,160,170,180,190,200,210,220,230,240,250,260,270,280,290,300], "tickCount": 100,
                           "grid": true, "gridColor": {"condition": {"test": "datum.value % 50 === 0", "value": "#d2d2d2"}, "value": "#e6e6e6"},
                           "labelExpr": "datum.value % 50 === 0 ? datum.label : ''", "offset": -128.5, "labelPadding": 10,
                           "labelOverlap": false, "labelFlush": false, "labelBound": false}},
            "y": {"field": "v", "type": "quantitative",
                  "scale": {"domain": [-0.8, 0.8], "range": [239, 20], "nice": false, "zero": false},
                  "axis": {"values": [-0.8,-0.6,-0.4,-0.2,0,0.2,0.4,0.6,0.8], "tickCount": 100, "grid": true,
                           "gridColor": {"condition": {"test": "datum.value === 0", "value": "#cccccc"}, "value": "#dcdcdc"},
                           "labelExpr": "(datum.value < 0 ? '-' : '') + replace(format(abs(datum.value), '~g'), '.', ',')",
                           "offset": -22.3, "labelPadding": 0, "labelOverlap": false, "labelBound": false, "labelFlush": false}}
          }
        },
        {
          "data": {"name": "mc"},
          "mark": {"type": "rule"},
          "encoding": {
            "x": {"field": "t", "type": "quantitative"},
            "y": {"datum": 0.8}, "y2": {"datum": -0.8},
            "color": {"field": "k", "type": "nominal", "scale": {"domain": ["g","b"], "range": ["#85c672","#4ea6dd"]}, "legend": null},
            "strokeWidth": {"field": "k", "type": "nominal", "scale": {"domain": ["g","b"], "range": [1, 1.6]}, "legend": null}
          }
        }
      ]
    }
  ],
  "config": {
    "view": {"stroke": "#d9d9d9", "strokeWidth": 1},
    "axis": {"labelFont": "Liberation Sans", "labelColor": "#595959", "labelFontSize": 12, "domain": false, "ticks": false, "tickSize": 0, "title": null},
    "title": {"font": "Liberation Serif", "fontSize": 18, "fontWeight": "bold", "color": "#000000",
              "subtitleFont": "Liberation Sans", "subtitleFontSize": 18, "subtitleColor": "#595959", "subtitleFontWeight": "normal",
              "subtitlePadding": 24.4, "anchor": "middle", "frame": "group", "offset": -32, "dx": 4}
  }
}
